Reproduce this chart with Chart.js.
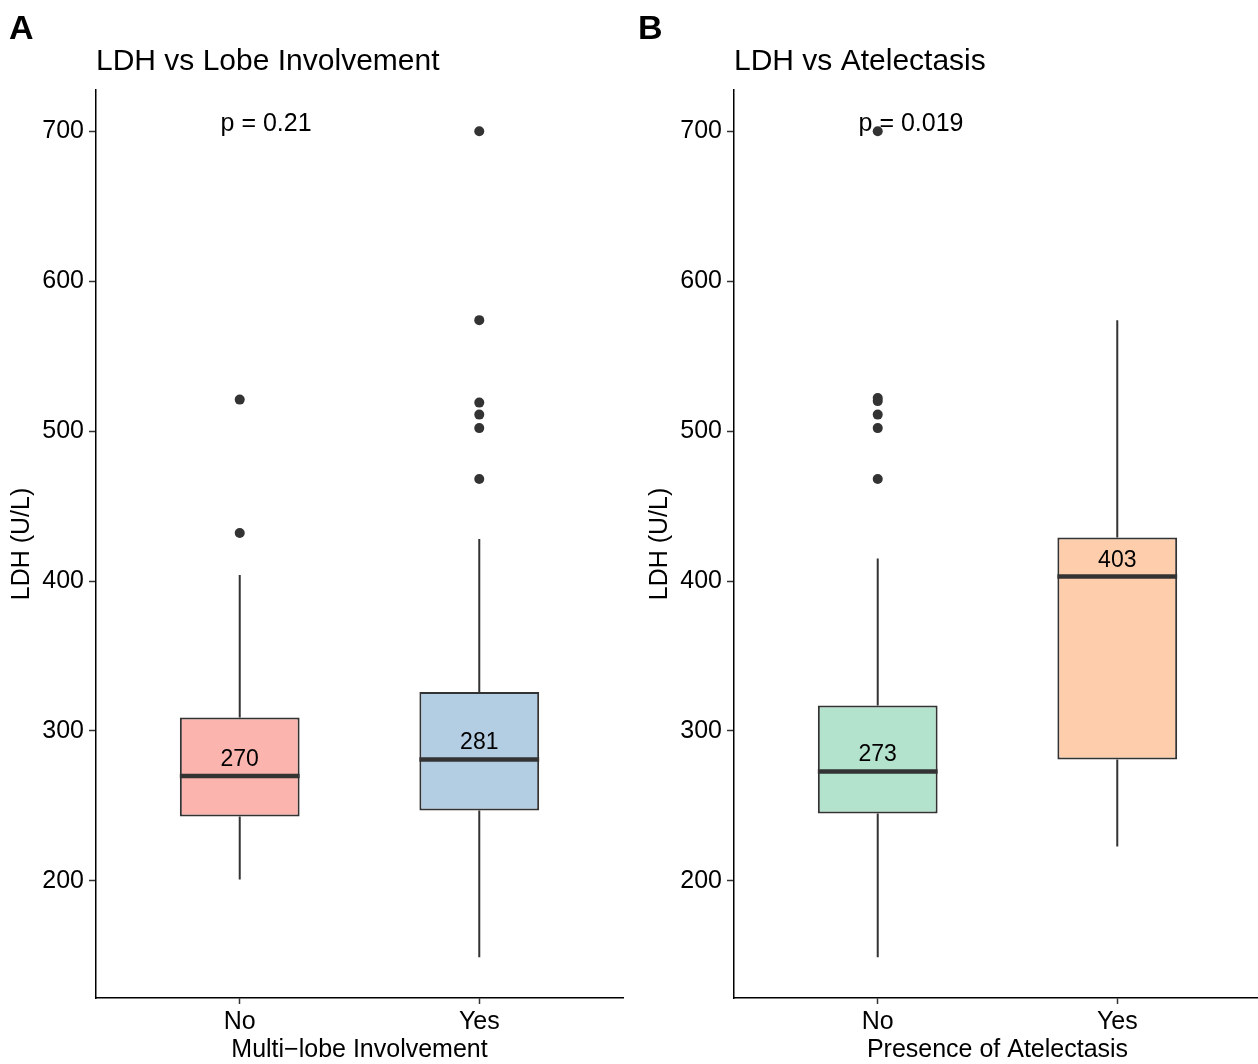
<!DOCTYPE html>
<html>
<head>
<meta charset="utf-8">
<script src="https://cdn.jsdelivr.net/npm/chart.js@4/dist/chart.umd.min.js"></script>
<style>
  html, body { margin: 0; padding: 0; background: #fff; }
  #page { position: relative; width: 1258px; height: 1064px; overflow: hidden; }
  canvas { position: absolute; top: 0; }
  #chartA { left: 0; }
  #chartB { left: 629px; }
</style>
</head>
<body>
<div id="page">
  <canvas id="chartA" width="629" height="1064"></canvas>
  <canvas id="chartB" width="632" height="1064"></canvas>
</div>
<script>
// categories and tick labels
const groups = ['No', 'Yes'];
const yTicks = [200, 300, 400, 500, 600, 700];

// Panel A: LDH by multi-lobe involvement
const lobeLower = [201, 149];
const lobeQ1 = [243, 247];
const lobeMedian = [270, 281];
const lobeQ3 = [309, 326];
const lobeUpper = [404, 428];
const lobeOutliers = [[432, 521], [468, 502, 511, 519, 574, 700]];

// Panel B: LDH by atelectasis
const atelLower = [149, 223];
const atelQ1 = [245, 281];
const atelMedian = [273, 403];
const atelQ3 = [317, 429];
const atelUpper = [415, 574];
const atelOutliers = [[468, 502, 511, 520, 522, 700], []];

const FONT = '"Liberation Sans", Arial, Helvetica, sans-serif';
const INK = '#333333';

// whiskers under the boxes, medians and their labels on top
const boxExtras = {
  id: 'boxExtras',
  beforeDatasetsDraw(chart, args, o) {
    const x = chart.scales.x, y = chart.scales.y, ctx = chart.ctx;
    ctx.save();
    ctx.strokeStyle = INK;
    ctx.lineWidth = 2;
    groups.forEach((g, i) => {
      const px = x.getPixelForValue(i + 1);
      ctx.beginPath();
      ctx.moveTo(px, y.getPixelForValue(o.lower[i]));
      ctx.lineTo(px, y.getPixelForValue(o.q1[i]));
      ctx.moveTo(px, y.getPixelForValue(o.q3[i]));
      ctx.lineTo(px, y.getPixelForValue(o.upper[i]));
      ctx.stroke();
    });
    ctx.restore();
  },
  afterDatasetsDraw(chart, args, o) {
    const x = chart.scales.x, y = chart.scales.y, ctx = chart.ctx;
    ctx.save();
    groups.forEach((g, i) => {
      const py = y.getPixelForValue(o.median[i]);
      ctx.strokeStyle = INK;
      ctx.lineWidth = 4.5;
      ctx.beginPath();
      ctx.moveTo(x.getPixelForValue(i + 0.75), py);
      ctx.lineTo(x.getPixelForValue(i + 1.25), py);
      ctx.stroke();
      ctx.fillStyle = '#000';
      ctx.font = '23px ' + FONT;
      ctx.textAlign = 'center';
      ctx.textBaseline = 'alphabetic';
      ctx.fillText(String(o.median[i]), x.getPixelForValue(i + 1), py - 10);
    });
    ctx.restore();
  },
  afterDraw(chart, args, o) {
    const x = chart.scales.x, y = chart.scales.y, ctx = chart.ctx;
    ctx.save();
    ctx.fillStyle = '#000';
    ctx.textBaseline = 'alphabetic';
    ctx.textAlign = 'left';
    ctx.font = 'bold 34px ' + FONT;
    ctx.fillText(o.letter, 9, 39);
    ctx.font = '30px ' + FONT;
    ctx.fillText(o.title, chart.chartArea.left, 70);
    ctx.font = '25px ' + FONT;
    ctx.fillText(o.pLabel, x.getPixelForValue(0.92), y.getPixelForValue(700));
    ctx.restore();
  }
};

function makePanel(id, p) {
  const boxData = groups.map((g, i) => ({ x: i + 1, y: [p.q1[i], p.q3[i]] }));
  const outData = [];
  p.outliers.forEach((list, i) => list.forEach(v => outData.push({ x: i + 1, y: v })));

  return new Chart(document.getElementById(id), {
    type: 'bar',
    data: {
      datasets: [
        {
          type: 'scatter',
          data: outData,
          order: 0,
          pointRadius: 5,
          pointBackgroundColor: INK,
          pointBorderColor: INK,
          pointBorderWidth: 0
        },
        {
          type: 'bar',
          data: boxData,
          order: 1,
          backgroundColor: p.colors,
          borderColor: INK,
          borderWidth: 2,
          borderSkipped: false,
          categoryPercentage: 1,
          barPercentage: 0.5
        }
      ]
    },
    options: {
      responsive: false,
      animation: false,
      devicePixelRatio: 1,
      layout: { autoPadding: false, padding: { top: 90, left: 0, right: p.padRight, bottom: 0 } },
      plugins: {
        legend: { display: false },
        tooltip: { enabled: false },
        boxExtras: {
          lower: p.lower, q1: p.q1, median: p.median, q3: p.q3, upper: p.upper,
          letter: p.letter, title: p.title, pLabel: p.pLabel
        }
      },
      scales: {
        x: {
          type: 'linear',
          min: 0.4,
          max: 2.6,
          offset: false,
          afterBuildTicks: s => { s.ticks = groups.map((g, i) => ({ value: i + 1 })); },
          afterFit: s => { s.height = 66; },
          ticks: {
            callback: v => groups[v - 1],
            color: '#000',
            font: { family: FONT, size: 25 },
            padding: 3,
            maxRotation: 0
          },
          grid: { offset: false, drawOnChartArea: false, tickLength: 6, tickColor: INK, tickWidth: 1.5 },
          border: { display: true, color: '#000', width: 1.5 },
          title: {
            display: true,
            text: p.xTitle,
            color: '#000',
            font: { family: FONT, size: 25, lineHeight: 1.1 },
            padding: { top: 0, bottom: 0 }
          }
        },
        y: {
          type: 'linear',
          min: 121.9,
          max: 727.5,
          afterBuildTicks: s => { s.ticks = yTicks.map(v => ({ value: v })); },
          afterFit: s => { s.width = p.yWidth; },
          ticks: {
            color: '#000',
            font: { family: FONT, size: 25 },
            padding: 5
          },
          grid: { drawOnChartArea: false, tickLength: 7, tickColor: INK, tickWidth: 1.5 },
          border: { display: true, color: '#000', width: 1.5 },
          title: {
            display: true,
            text: 'LDH (U/L)',
            color: '#000',
            font: { family: FONT, size: 25 },
            padding: { top: p.yTitlePad, bottom: 0 }
          }
        }
      }
    },
    plugins: [boxExtras]
  });
}

makePanel('chartA', {
  lower: lobeLower, q1: lobeQ1, median: lobeMedian, q3: lobeQ3, upper: lobeUpper,
  outliers: lobeOutliers,
  colors: ['#FBB4AE', '#B3CDE3'],
  letter: 'A', title: 'LDH vs Lobe Involvement', pLabel: 'p = 0.21',
  xTitle: 'Multi\u2212lobe Involvement',
  yWidth: 96, padRight: 6, yTitlePad: 7
});

makePanel('chartB', {
  lower: atelLower, q1: atelQ1, median: atelMedian, q3: atelQ3, upper: atelUpper,
  outliers: atelOutliers,
  colors: ['#B3E2CD', '#FDCDAC'],
  letter: 'B', title: 'LDH vs Atelectasis', pLabel: 'p = 0.019',
  xTitle: 'Presence of Atelectasis',
  yWidth: 105, padRight: 0, yTitlePad: 16
});
</script>
</body>
</html>
